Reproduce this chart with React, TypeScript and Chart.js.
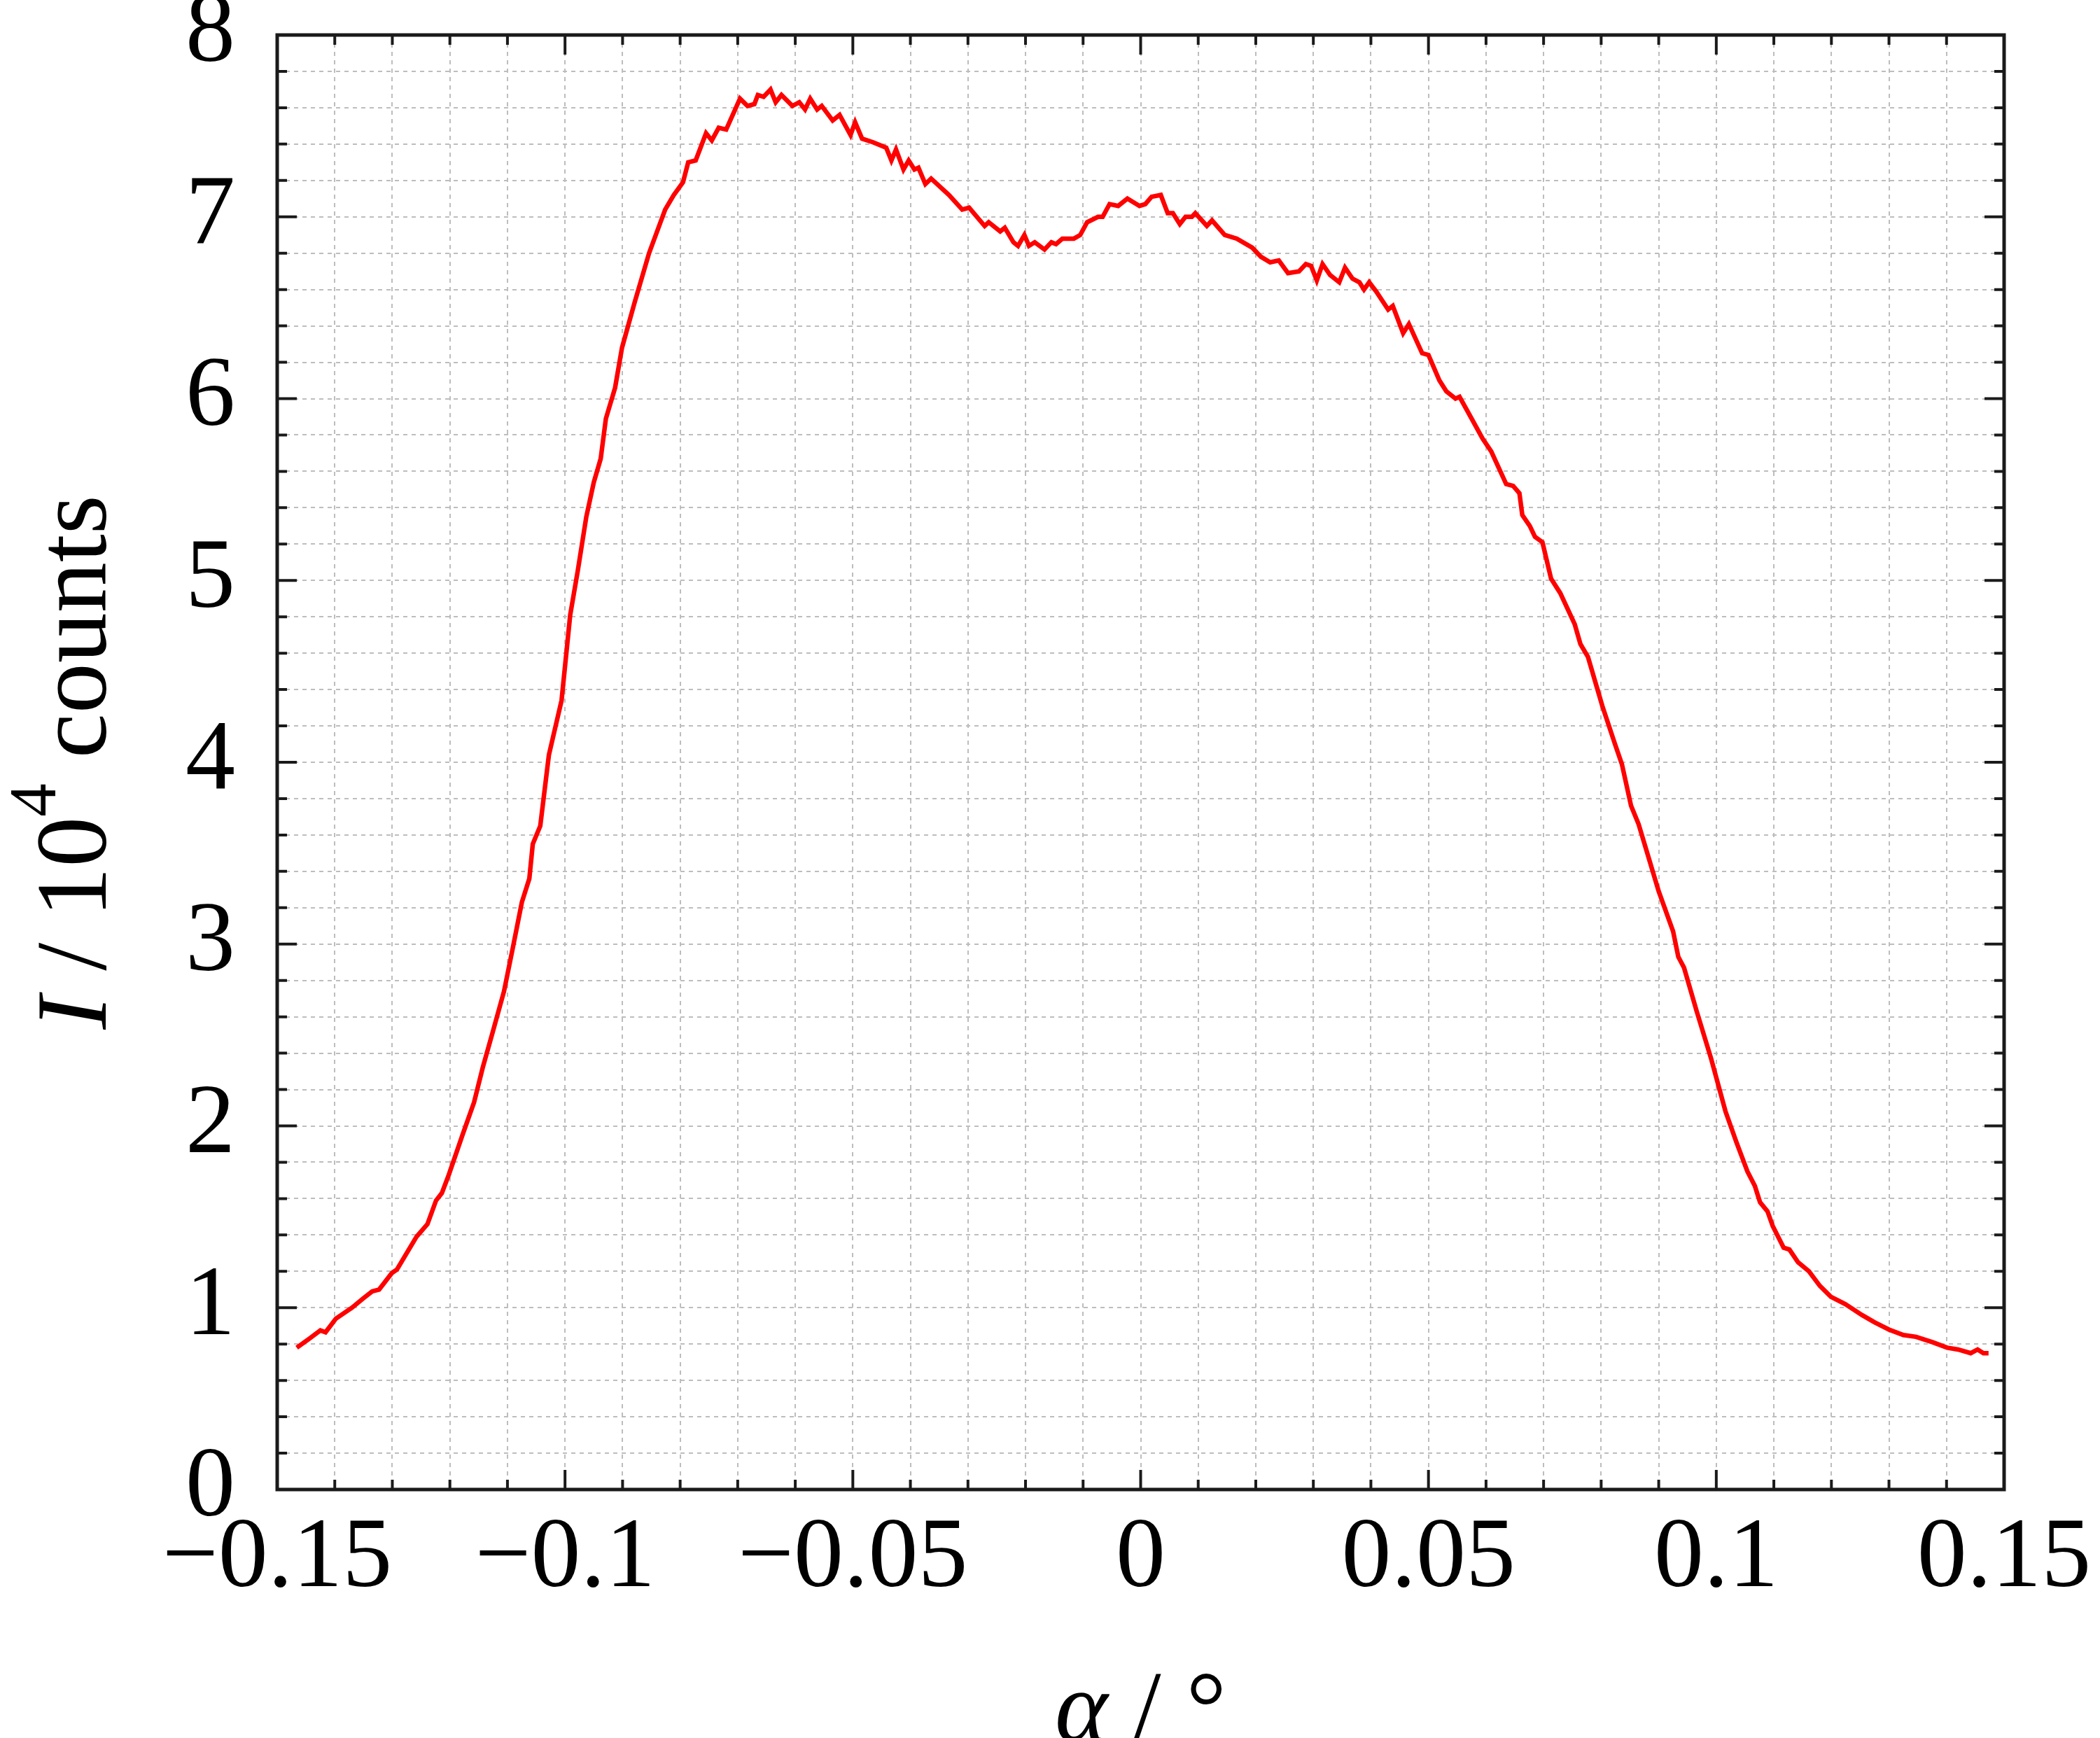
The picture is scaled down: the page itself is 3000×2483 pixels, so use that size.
import { useEffect, useRef } from "react";
import { Chart, registerables, Plugin } from "chart.js";

Chart.register(...registerables);

// rocking curve (alpha in degrees, I in 10^4 counts)
const alphaValues = [
  -0.1466, -0.1444, -0.1425, -0.1416, -0.1398, -0.137, -0.1351, -0.1335, -0.1323, -0.1301,
  -0.1292, -0.1258, -0.1239, -0.1224, -0.1214, -0.1202, -0.1177, -0.1158, -0.1143, -0.1127,
  -0.1106, -0.109, -0.1075, -0.1062, -0.1056, -0.1043, -0.1028, -0.1006, -0.0991, -0.0978,
  -0.0963, -0.095, -0.0938, -0.0929, -0.0913, -0.0901, -0.0879, -0.0854, -0.0826, -0.0811,
  -0.0795, -0.0786, -0.0773, -0.0755, -0.0745, -0.0733, -0.072, -0.0696, -0.0683, -0.0671,
  -0.0665, -0.0655, -0.0643, -0.0634, -0.0624, -0.0605, -0.0593, -0.0583, -0.0574, -0.0562,
  -0.0554, -0.0535, -0.0523, -0.0504, -0.0496, -0.0484, -0.0465, -0.0442, -0.0433, -0.0425,
  -0.0412, -0.0403, -0.0393, -0.0386, -0.0374, -0.0364, -0.0333, -0.031, -0.0298, -0.0271,
  -0.0264, -0.0244, -0.0236, -0.0221, -0.0213, -0.0202, -0.0194, -0.0184, -0.0167, -0.0155,
  -0.0147, -0.0136, -0.0116, -0.0105, -0.0093, -0.0074, -0.0066, -0.0054, -0.0039, -0.0023,
  -0.0002, 0.0008, 0.0019, 0.0035, 0.0047, 0.0056, 0.0068, 0.0078, 0.0089, 0.0095,
  0.0115, 0.0124, 0.0146, 0.0167, 0.0194, 0.0209, 0.0225, 0.024, 0.0256, 0.0275,
  0.0287, 0.0296, 0.0306, 0.0316, 0.0329, 0.0345, 0.0355, 0.0368, 0.038, 0.0388,
  0.0397, 0.0409, 0.043, 0.0438, 0.0456, 0.0466, 0.0489, 0.05, 0.0519, 0.0531,
  0.0547, 0.0554, 0.0575, 0.0594, 0.0609, 0.0635, 0.0647, 0.0658, 0.0663, 0.0676,
  0.0685, 0.0698, 0.0713, 0.0729, 0.0754, 0.0764, 0.0777, 0.0802, 0.0824, 0.0836,
  0.0852, 0.0865, 0.09, 0.0925, 0.0934, 0.0944, 0.0966, 0.0991, 0.1016, 0.1035,
  0.1054, 0.1067, 0.1076, 0.1089, 0.1098, 0.1117, 0.1127, 0.1142, 0.1161, 0.118,
  0.1199, 0.1224, 0.1253, 0.1275, 0.13, 0.1325, 0.1347, 0.1376, 0.1401, 0.142,
  0.1442, 0.1454, 0.1464, 0.1473,
];

const intensityValues = [
  0.78, 0.83, 0.875, 0.865, 0.94, 1.0, 1.05, 1.09, 1.1, 1.19,
  1.21, 1.39, 1.46, 1.59, 1.63, 1.73, 1.96, 2.13, 2.32, 2.5,
  2.74, 2.99, 3.23, 3.36, 3.55, 3.65, 4.04, 4.34, 4.81, 5.05,
  5.35, 5.54, 5.67, 5.89, 6.06, 6.28, 6.53, 6.8, 7.04, 7.12,
  7.19, 7.3, 7.31, 7.46, 7.42, 7.49, 7.48, 7.65, 7.61, 7.62,
  7.67, 7.66, 7.7, 7.63, 7.67, 7.61, 7.63, 7.59, 7.65, 7.59,
  7.61, 7.53, 7.56, 7.45, 7.52, 7.43, 7.41, 7.38, 7.31, 7.37,
  7.26, 7.31, 7.26, 7.27, 7.18, 7.21, 7.12, 7.04, 7.05, 6.95,
  6.97, 6.92, 6.94, 6.86, 6.84, 6.9, 6.84, 6.86, 6.82, 6.86,
  6.85, 6.88, 6.88, 6.9, 6.97, 7.0, 7.0, 7.07, 7.06, 7.1,
  7.06, 7.07, 7.11, 7.12, 7.02, 7.02, 6.96, 7.0, 7.0, 7.02,
  6.95, 6.98, 6.9, 6.88, 6.83, 6.78, 6.75, 6.76, 6.69, 6.7,
  6.74, 6.73, 6.65, 6.74, 6.68, 6.64, 6.72, 6.66, 6.64, 6.6,
  6.64, 6.59, 6.49, 6.51, 6.36, 6.41, 6.25, 6.24, 6.1, 6.04,
  6.0, 6.01, 5.89, 5.78, 5.71, 5.53, 5.52, 5.48, 5.36, 5.3,
  5.24, 5.21, 5.01, 4.93, 4.76, 4.65, 4.58, 4.31, 4.1, 3.99,
  3.76, 3.66, 3.29, 3.07, 2.93, 2.87, 2.63, 2.37, 2.08, 1.91,
  1.75, 1.67, 1.58, 1.53, 1.45, 1.33, 1.32, 1.25, 1.2, 1.12,
  1.06, 1.02, 0.96, 0.92, 0.88, 0.85, 0.84, 0.81, 0.78, 0.77,
  0.75, 0.77, 0.75, 0.75,
];

const xTickLabels = ["\u22120.15", "\u22120.1", "\u22120.05", "0", "0.05", "0.1", "0.15"];
const yTickLabels = ["0", "1", "2", "3", "4", "5", "6", "7", "8"];

const SERIF = "'Liberation Serif', 'Times New Roman', serif";
const TICK_FONT = 142;
const TITLE_FONT = 144;

const W = 3000;
const H = 2483;

type Run = { text: string; font: string; dy?: number };

const drawRuns = (ctx: CanvasRenderingContext2D, runs: Run[], cx: number, baseline: number) => {
  let total = 0;
  runs.forEach((r) => {
    ctx.font = r.font;
    total += ctx.measureText(r.text).width;
  });
  let x = cx - total / 2;
  runs.forEach((r) => {
    ctx.font = r.font;
    ctx.fillText(r.text, x, baseline + (r.dy || 0));
    x += ctx.measureText(r.text).width;
  });
};

// inward ticks on all four sides plus the black frame
const framePlugin: Plugin = {
  id: "frame",
  beforeDatasetsDraw(chart) {
    const { ctx, chartArea } = chart;
    const { left, right, top, bottom } = chartArea;
    const xs = chart.scales.x;
    const ys = chart.scales.y;
    ctx.save();
    ctx.strokeStyle = "#1a1a1a";
    ctx.lineWidth = 4;
    ctx.beginPath();
    xs.ticks.forEach((t) => {
      const px = xs.getPixelForValue(t.value);
      const len = t.label ? 28 : 14;
      ctx.moveTo(px, bottom);
      ctx.lineTo(px, bottom - len);
      ctx.moveTo(px, top);
      ctx.lineTo(px, top + len);
    });
    ys.ticks.forEach((t) => {
      const py = ys.getPixelForValue(t.value);
      const len = t.label ? 28 : 14;
      ctx.moveTo(left, py);
      ctx.lineTo(left + len, py);
      ctx.moveTo(right, py);
      ctx.lineTo(right - len, py);
    });
    ctx.stroke();
    ctx.lineWidth = 5;
    ctx.strokeRect(left, top, right - left, bottom - top);
    ctx.restore();
  },
};

const titlePlugin: Plugin = {
  id: "titles",
  afterDraw(chart) {
    const { ctx, chartArea } = chart;
    const { left, right, top, bottom } = chartArea;
    const normal = `${TITLE_FONT}px ${SERIF}`;
    const italic = `italic ${TITLE_FONT}px ${SERIF}`;
    const small = `${Math.round(TITLE_FONT * 0.66)}px ${SERIF}`;
    ctx.save();
    ctx.fillStyle = "#000";
    ctx.textBaseline = "alphabetic";
    ctx.textAlign = "left";

    // x title
    drawRuns(
      ctx,
      [
        { text: "\u03b1", font: italic },
        { text: " / \u00b0", font: normal },
      ],
      (left + right) / 2,
      bottom + 359
    );

    // y title, rotated
    ctx.translate(left - 245, (top + bottom) / 2);
    ctx.rotate(-Math.PI / 2);
    drawRuns(
      ctx,
      [
        { text: "I", font: italic },
        { text: " / 10", font: normal },
        { text: "4", font: small, dy: -TITLE_FONT * 0.5 },
        { text: " counts", font: normal },
      ],
      0,
      0
    );
    ctx.restore();
  },
};

const isNear = (v: number, step: number) => Math.abs(v / step - Math.round(v / step)) < 1e-6;

const App = () => {
  const chartRef = useRef<HTMLCanvasElement | null>(null);

  useEffect(() => {
    if (!chartRef.current) return;
    const ctx = chartRef.current.getContext("2d");
    if (!ctx) return;

    const points = alphaValues.map((a, i) => ({ x: a, y: intensityValues[i] }));

    const chartInstance = new Chart(ctx, {
      type: "line",
      data: {
        datasets: [
          {
            data: points,
            borderColor: "#ff0000",
            borderWidth: 6.5,
            pointRadius: 0,
            tension: 0,
            fill: false,
          },
        ],
      },
      options: {
        responsive: false,
        devicePixelRatio: 1,
        animation: false,
        events: [],
        layout: { padding: { top: 50, right: 137, left: 0, bottom: 0 } },
        plugins: {
          legend: { display: false },
          tooltip: { enabled: false },
        },
        scales: {
          x: {
            type: "linear",
            min: -0.15,
            max: 0.15,
            border: { display: false, dash: [6, 6] },
            grid: { color: "#bdbdbd", lineWidth: 2, drawTicks: false },
            ticks: {
              stepSize: 0.01,
              autoSkip: false,
              maxRotation: 0,
              minRotation: 0,
              padding: 16,
              color: "#000",
              font: { family: SERIF, size: TICK_FONT },
              callback: (v) => {
                const n = Number(v);
                if (!isNear(n, 0.05)) return "";
                return xTickLabels[Math.round((n + 0.15) / 0.05)] ?? "";
              },
            },
            afterFit: (scale) => {
              scale.height = H - 2128;
              scale.paddingLeft = 0;
              scale.paddingRight = 0;
            },
          },
          y: {
            type: "linear",
            min: 0,
            max: 8,
            border: { display: false, dash: [6, 6] },
            grid: { color: "#bdbdbd", lineWidth: 2, drawTicks: false },
            ticks: {
              stepSize: 0.2,
              autoSkip: false,
              padding: 60,
              color: "#000",
              font: { family: SERIF, size: TICK_FONT },
              callback: (v) => {
                const n = Number(v);
                if (!isNear(n, 1)) return "";
                return yTickLabels[Math.round(n)] ?? "";
              },
            },
            afterFit: (scale) => {
              scale.width = 396;
              scale.paddingTop = 0;
              scale.paddingBottom = 0;
            },
          },
        },
      },
      plugins: [framePlugin, titlePlugin],
    });

    return () => {
      chartInstance.destroy();
    };
  }, []);

  return (
    <div style={{ position: "absolute", left: 0, top: 0, width: W, height: H, background: "#fff" }}>
      <canvas ref={chartRef} width={W} height={H} style={{ display: "block" }}></canvas>
    </div>
  );
};

export default App;
